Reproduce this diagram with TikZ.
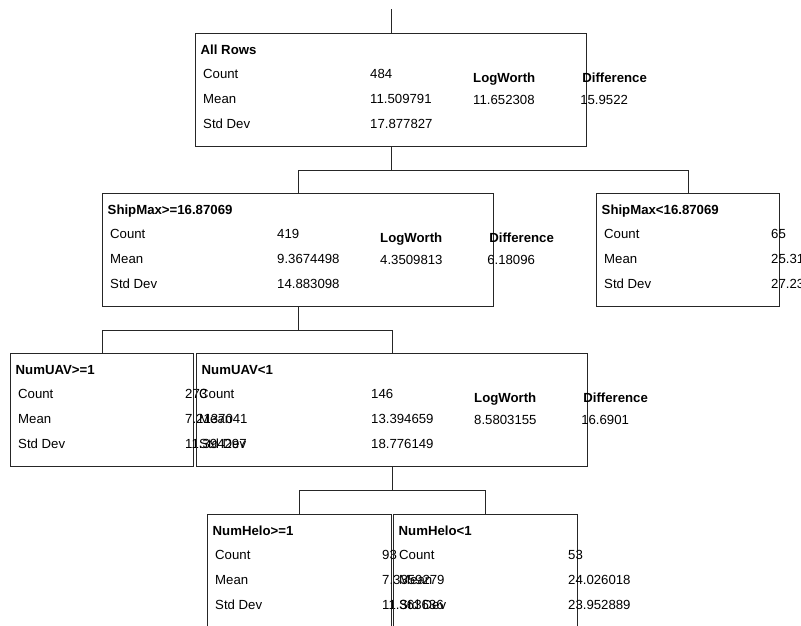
\documentclass[tikz,border=0pt]{standalone}
\usepackage{fontspec}
\setmainfont{Liberation Sans}
\usetikzlibrary{calc}
\tikzset{
  box/.style={draw=black!85, line width=1.1pt, rectangle, inner sep=0pt, anchor=north west},
  txt/.style={anchor=base west, inner sep=0pt, font=\fontsize{13.2}{15}\selectfont},
  ttl/.style={anchor=base west, inner sep=0pt, font=\fontsize{13.2}{15}\selectfont\bfseries},
  link/.style={draw=black!85, line width=1.1pt},
}
% #1 name, #2 x, #3 y, #4 width, #5 label offset, #6 title, #7 count, #8 mean, #9 sd
\newcommand\statbox[9]{%
  \node[box, minimum width=#4pt, minimum height=113pt] (#1) at (#2,#3) {};
  \node[ttl] (#1-t) at ($(#1.north west)+(5.5,21)$) {#6};
  \node[txt] (#1-cl) at ($(#1.north west)+(#5,45)$) {Count};
  \node[txt] (#1-ml) at ($(#1.north west)+(#5,70)$) {Mean};
  \node[txt] (#1-sl) at ($(#1.north west)+(#5,95)$) {Std Dev};
  \node[txt] (#1-cv) at ($(#1.north west)+(175,45)$) {#7};
  \node[txt] (#1-mv) at ($(#1.north west)+(175,70)$) {#8};
  \node[txt] (#1-sv) at ($(#1.north west)+(175,95)$) {#9};
}
% #1 name, #2 logworth, #3 difference
\newcommand\splitinfo[3]{%
  \node[ttl] (#1-lw) at ($(#1.north west)+(278,49)$) {LogWorth};
  \node[txt] (#1-lwv) at ($(#1.north west)+(278,71)$) {#2};
  \node[ttl] (#1-d) at ($(#1.north east)+(-5,49)$) {Difference};
  \node[txt] (#1-dv) at ($(#1.north east)+(-7,71)$) {#3};
}
\begin{document}
\begin{tikzpicture}[x=1pt,y=-1pt]
\useasboundingbox (0,0) rectangle (801,625);
\clip (0,0) rectangle (801,625);

\statbox{all}{195}{33}{391}{8}{All Rows}{484}{11.509791}{17.877827}
\splitinfo{all}{11.652308}{15.9522}

\statbox{shipge}{102}{193}{391}{8}{ShipMax>=16.87069}{419}{9.3674498}{14.883098}
\splitinfo{shipge}{4.3509813}{6.18096}

\statbox{shiplt}{596}{193}{183}{8}{ShipMax<16.87069}{65}{25.319612}{27.234761}

\statbox{uavge}{10}{353}{183}{8}{NumUAV>=1}{273}{7.2137041}{11.394297}

\statbox{uavlt}{196}{353}{391}{3}{NumUAV<1}{146}{13.394659}{18.776149}
\splitinfo{uavlt}{8.5803155}{16.6901}

\statbox{heloge}{207}{514}{184}{8}{NumHelo>=1}{93}{7.3359279}{11.363636}

\statbox{helolt}{393}{514}{184}{6}{NumHelo<1}{53}{24.026018}{23.952889}

% connectors
\coordinate (topend) at ($(all.north)+(0,-24)$);
\draw[link] (topend) -- (all.north);

\draw[link] (all.south) -- ++(0,23) coordinate (j1);
\draw[link] (shipge.north) |- (j1) -| (shiplt.north);

\draw[link] (shipge.south) -- ++(0,23) coordinate (j2);
\draw[link] (uavge.north) |- (j2) -| (uavlt.north);

\draw[link] (uavlt.south) -- ++(0,23) coordinate (j3);
\draw[link] (heloge.north) |- (j3) -| (helolt.north);
\end{tikzpicture}
\end{document}
